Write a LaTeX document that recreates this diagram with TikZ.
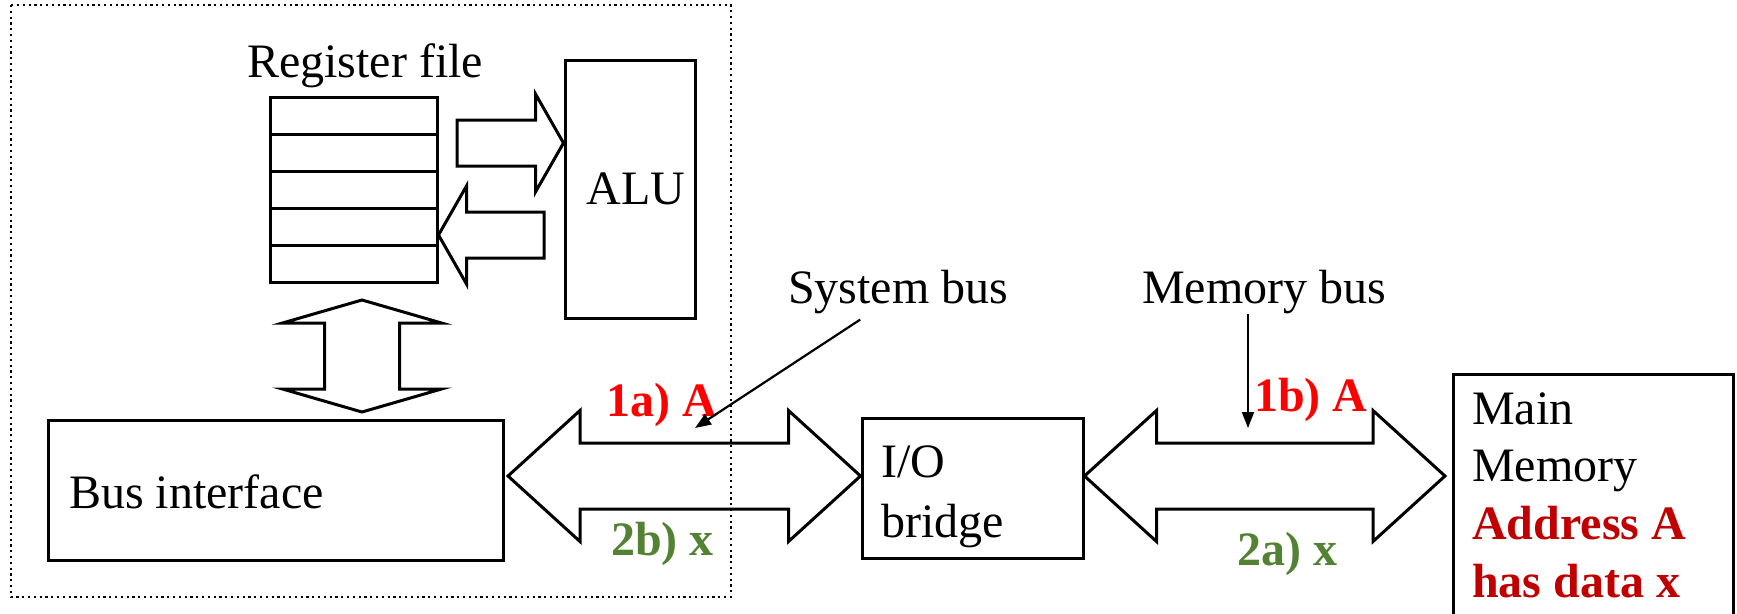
\documentclass[tikz,border=0pt]{standalone}
\usepackage{fontspec}
\setmainfont{Liberation Serif}
\usetikzlibrary{arrows.meta,calc}

\definecolor{addrred}{HTML}{FF0000}
\definecolor{datagreen}{HTML}{548235}
\definecolor{memred}{HTML}{C00000}

% wide bus arrow, heads at both ends
\newcommand\busarrow[2]{%
  \draw[fat] (#1) -- ++(72,-65.5) -- ++(0,32.5) -- ($(#2)+(-72,-33)$) -- ++(0,-32.5)
    -- (#2) -- ++(-72,65.5) -- ++(0,-32.5) -- ($(#1)+(72,33)$) -- ++(0,32.5) -- cycle;}
% the same, upright
\newcommand\vbusarrow[2]{%
  \draw[fat] (#1) -- ++(79.5,23) -- ++(-42,0) -- ($(#2)+(37.5,-23)$) -- ++(42,0)
    -- (#2) -- ++(-79.5,-23) -- ++(42,0) -- ($(#1)+(-37.5,23)$) -- ++(-42,0) -- cycle;}
% one-headed block arrow, #3 = 1 points right, -1 points left
\newcommand\fatarrow[3]{%
  \draw[fat] ($(#1)+(0,-23)$) -- ($(#2)+(-28*#3,-23)$) -- ++(0,-26) -- (#2)
    -- ++(-28*#3,49) -- ++(0,-26) -- ($(#1)+(0,23)$) -- cycle;}

\begin{document}
\begin{tikzpicture}[x=1pt,y=-1pt,
  every node/.style={inner sep=0pt, font=\fontsize{48}{57.6}\selectfont},
  box/.style={draw, line width=3pt},
  regrow/.style={box, minimum width=167pt, minimum height=37pt},
  fat/.style={line width=3pt, line join=miter},
  cpuframe/.style={line width=2.2pt, dash pattern=on 2.2pt off 3.6pt},
  sendaddr/.style={font=\fontsize{48}{57.6}\selectfont\bfseries, text=addrred},
  senddata/.style={font=\fontsize{48}{57.6}\selectfont\bfseries, text=datagreen},
  pointer/.style={line width=2.2pt, -{Triangle[length=16pt,width=12pt]}}]
\useasboundingbox (0,0) rectangle (1737,613);
\clip (0,0) rectangle (1737,613);

% cpu chip
\draw[cpuframe] (11,5) rectangle (731,597);

\node[anchor=base] (regtitle) at (365,77) {Register file};
\foreach \i in {1,...,5}
  \node[regrow] (r\i) at (353.5,{78.5+37*\i}) {};
\node[box, minimum width=130pt, minimum height=258pt] (alu) at (630,189) {\hspace*{12pt}ALU};

\coordinate (regout) at (457,143);
\fatarrow{regout}{alu.west |- regout}{1}
\coordinate (aluout) at (544,235);
\fatarrow{aluout}{r4.east |- aluout}{-1}

\node[box, minimum width=455pt, minimum height=140pt] (bi) at (275.5,490) {};
\node[anchor=base west] (bitext) at (69,508) {Bus interface};

\coordinate (regbus top) at (362,300);
\coordinate (regbus bottom) at (362,412);
\vbusarrow{regbus top}{regbus bottom}

% bridge and memory, text placed by its last baseline
\node[box, minimum width=221pt, minimum height=140pt] (io) at (972.5,488) {};
\node[anchor=base west, align=left, font=\fontsize{48}{60}\selectfont] (iotext) at (881,537) {I/O\\bridge};

\node[box, anchor=north west, minimum width=280pt, minimum height=280pt] (mem) at (1452,373) {};
\node[anchor=base west, align=left] (memtext) at (1472,597)
  {Main\\Memory\\{\bfseries\color{memred}Address A}\\{\bfseries\color{memred}has data x}};

\coordinate (sysbus left) at (508,476);
\busarrow{sysbus left}{io.west |- sysbus left}
\coordinate (membus right) at (1445,476);
\busarrow{io.east |- membus right}{membus right}

% bus names and transfer steps
\node[anchor=base west] (sysbus) at (788,303) {System bus};
\node[anchor=base west] (membus) at (1142,303) {Memory bus};
\node[sendaddr, anchor=base west] (step1a) at (606,416) {1a) A};
\node[senddata, anchor=base west] (step2b) at (611,555) {2b) x};
\node[sendaddr, anchor=base west] (step1b) at (1254,411) {1b) A};
\node[senddata, anchor=base west] (step2a) at (1237,565) {2a) x};

\coordinate (sysbus tip) at (695,428);
\draw[pointer] ([xshift=-38pt,yshift=-6pt]sysbus.south) -- (sysbus tip);
\coordinate (membus tip) at (1248,428);
\draw[pointer] (membus.south -| membus tip) -- (membus tip);
\end{tikzpicture}
\end{document}
